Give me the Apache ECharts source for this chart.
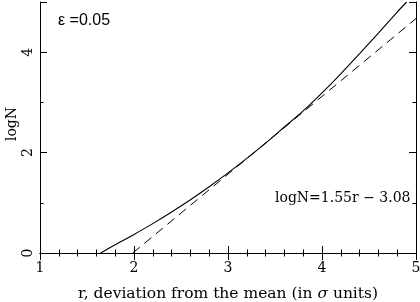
<!DOCTYPE html>
<html><head><meta charset="utf-8">
<script src="https://cdn.jsdelivr.net/npm/echarts@6/dist/echarts.min.js"></script>
<style>html,body{margin:0;padding:0;background:#fff}#c{width:420px;height:302px}</style>
</head><body><div id="c"></div>
<script>
// solid curve: logN vs r
const rCurve    = [1.645, 1.8, 2.0, 2.2, 2.4, 2.6, 2.8, 3.0, 3.2, 3.4, 3.6, 3.8, 4.0, 4.2, 4.4, 4.6, 4.8, 4.9];
const logNCurve = [0.0, 0.165, 0.37, 0.585, 0.815, 1.06, 1.32, 1.595, 1.885, 2.19, 2.51, 2.83, 3.19, 3.57, 3.97, 4.38, 4.80, 5.0];
// dashed fit line: logN = 1.55 r - 3.08 (end points)
const rFit    = [1.987, 5.0];
const logNFit = [0.0, 4.67];
const xTicks = [1, 2, 3, 4, 5];
const yTicks = [0, 2, 4];

const serif = 'DejaVu Serif';
const chart = echarts.init(document.getElementById('c'), null, {renderer: 'canvas'});
const zip = (a, b) => a.map((v, i) => [v, b[i]]);

const baseX = {
  type: 'value', min: xTicks[0], max: xTicks[xTicks.length - 1], interval: 1,
  axisLine: {show: true, lineStyle: {color: '#000', width: 1}},
  axisTick: {show: true, inside: true, length: 7, lineStyle: {color: '#000', width: 1}},
  minorTick: {show: true, splitNumber: 5, length: 3.5, lineStyle: {color: '#000', width: 1}},
  splitLine: {show: false}, minorSplitLine: {show: false}
};
const baseY = {
  type: 'value', min: yTicks[0], max: 5, interval: 2,
  axisLine: {show: true, lineStyle: {color: '#000', width: 1}},
  axisTick: {show: true, inside: true, length: 7, lineStyle: {color: '#000', width: 1}},
  minorTick: {show: true, splitNumber: 2, length: 3.5, lineStyle: {color: '#000', width: 1}},
  splitLine: {show: false}, minorSplitLine: {show: false}
};

chart.setOption({
  animation: false,
  backgroundColor: '#fff',
  grid: {left: 40, right: 4, top: 2, bottom: 49, containLabel: false, outerBoundsMode: 'none'},
  xAxis: [
    Object.assign({}, baseX, {position: 'bottom',
      axisLabel: {show: true, color: '#000', fontFamily: serif, fontSize: 14, margin: 8,
        formatter: v => xTicks.includes(v) ? String(v) : ''}}),
    Object.assign({}, baseX, {position: 'top', axisLabel: {show: false}})
  ],
  yAxis: [
    Object.assign({}, baseY, {position: 'left',
      axisLabel: {show: true, rotate: 90, color: '#000', fontFamily: serif, fontSize: 14, margin: 5,
        formatter: v => yTicks.includes(v) ? String(v) : ''}}),
    Object.assign({}, baseY, {position: 'right', axisLabel: {show: false}})
  ],
  series: [
    {type: 'line', xAxisIndex: 0, yAxisIndex: 0, data: zip(rCurve, logNCurve),
      showSymbol: false, smooth: 0.3, clip: true,
      lineStyle: {color: '#000', width: 1.1}},
    {type: 'line', xAxisIndex: 0, yAxisIndex: 0, data: zip(rFit, logNFit),
      showSymbol: false, clip: true,
      lineStyle: {color: '#000', width: 1, type: [9, 6]}}
  ],
  graphic: [
    {type: 'text', left: 58, top: 13, style: {text: 'ε =0.05', font: '16px "Liberation Sans"', fill: '#000'}},
    {type: 'text', left: 275, top: 191, style: {text: 'logN=1.55r − 3.08', font: '14px "DejaVu Serif"', fill: '#000'}},
    {type: 'text', x: 12, y: 124, rotation: Math.PI / 2,
      style: {text: 'logN', font: '14px "DejaVu Serif"', fill: '#000', align: 'center', verticalAlign: 'middle'}},
    {type: 'text', left: 78, top: 286, style: {
      text: 'r, deviation from the mean (in {s|σ} units)',
      font: '15.5px "DejaVu Serif"', fill: '#000',
      rich: {s: {fontStyle: 'italic', fontFamily: serif, fontSize: 15.5}}}}
  ]
});
</script>
</body></html>
